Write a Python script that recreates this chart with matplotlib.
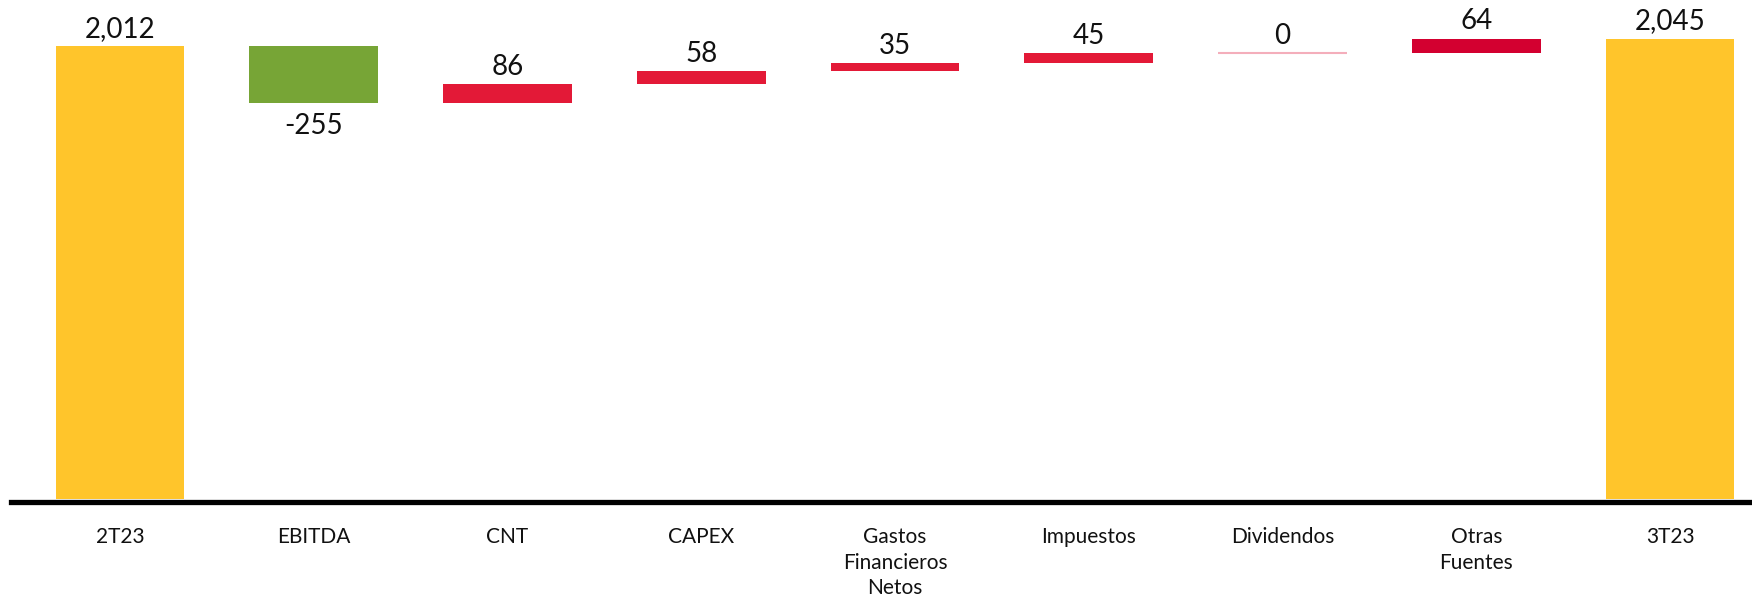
import matplotlib
matplotlib.use('Agg')
import matplotlib.pyplot as plt
import numpy as np

plt.rcParams['font.family'] = ['Lato', 'DejaVu Sans']

categories = ['2T23', 'EBITDA', 'CNT', 'CAPEX', 'Gastos\nFinancieros\nNetos',
              'Impuestos', 'Dividendos', 'Otras\nFuentes', '3T23']
values = [2012, -255, 86, 58, 35, 45, 0, 64, 2045]
value_labels = ['2,012', '-255', '86', '58', '35', '45', '0', '64', '2,045']
kinds = ['total', 'delta', 'delta', 'delta', 'delta', 'delta', 'delta', 'delta', 'total']
colors = ['#FFC52B', '#77A536', '#E31937', '#E31937', '#E31937', '#E31937',
          '#F4AEBB', '#D30030', '#FFC52B']

fig = plt.figure(figsize=(17.52, 6.01), dpi=100)
ax = fig.add_axes([11 / 1752, 99 / 601, 1 - 11 / 1752, 1 - 99 / 601])

x = np.arange(len(categories))
bottoms, heights = [], []
running = 0
for v, k in zip(values, kinds):
    if k == 'total':
        bottoms.append(0)
        heights.append(v)
        running = v
    else:
        if v >= 0:
            bottoms.append(running)
            heights.append(v)
        else:
            bottoms.append(running + v)
            heights.append(-v)
        running += v

width = 0.664
for i in range(len(categories)):
    if heights[i] == 0:
        ax.bar(x[i], 0, width, bottom=bottoms[i], color=colors[i],
               edgecolor=colors[i], linewidth=1.5, zorder=2)
    else:
        ax.bar(x[i], heights[i], width, bottom=bottoms[i], color=colors[i],
               linewidth=0, zorder=2)

for i in range(len(categories)):
    top = bottoms[i] + heights[i]
    if kinds[i] == 'delta' and values[i] < 0:
        ax.annotate(value_labels[i], (x[i], bottoms[i]), xytext=(0, -7),
                    textcoords='offset points', ha='center', va='top',
                    fontsize=20, color='#111111')
    else:
        ax.annotate(value_labels[i], (x[i], top), xytext=(0, 3),
                    textcoords='offset points', ha='center', va='bottom',
                    fontsize=20, color='#111111')

ax.set_xlim(-0.5626, 8.423)
ax.set_ylim(-13, 2216)
ax.set_xticks(x)
ax.set_xticklabels(categories, fontsize=15, linespacing=1.35, color='#111111')
ax.tick_params(axis='x', length=0, pad=18)
ax.set_yticks([])
for s in ['top', 'right', 'left']:
    ax.spines[s].set_visible(False)
ax.spines['bottom'].set_linewidth(3.8)
ax.spines['bottom'].set_color('black')
ax.spines['bottom'].set_zorder(3)

fig.savefig('out.png', dpi=100)
